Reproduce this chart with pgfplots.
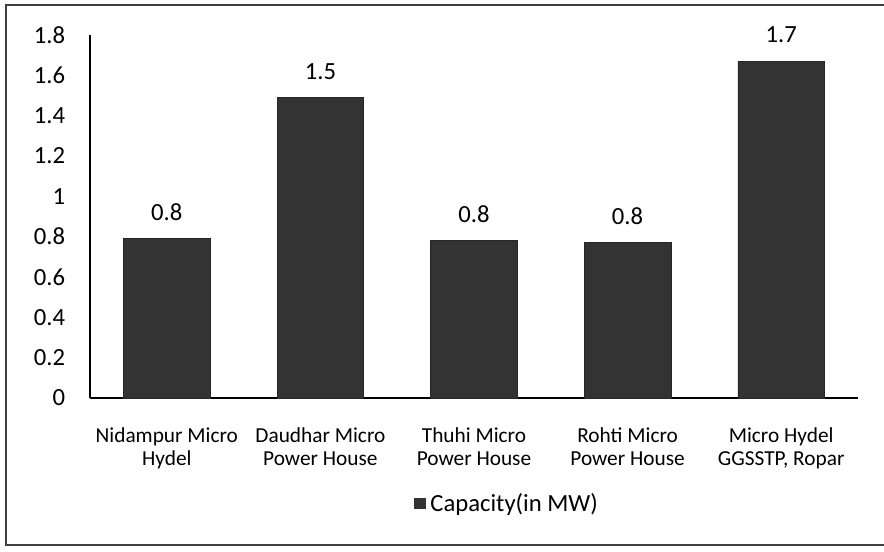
\documentclass[border=0pt]{standalone}
\usepackage{pgfplots}
\pgfplotsset{compat=1.18}
\usepackage{fontspec}
\setmainfont{Carlito}
\begin{document}
\begin{tikzpicture}
\useasboundingbox (0,0) rectangle (663pt,414pt);
\draw[black!75, line width=0.8pt] (4.5pt,5.25pt) rectangle (680pt,410.25pt);
\begin{axis}[
  at={(67.5pt,115.5pt)}, anchor=south west,
  scale only axis, width=576pt, height=272.25pt,
  xmin=-0.5, xmax=4.5, ymin=0, ymax=1.8,
  axis x line*=bottom, axis y line*=left,
  axis line style={black, line width=0.9pt},
  major tick length=0pt,
  ytick={0,0.2,0.4,0.6,0.8,1,1.2,1.4,1.6,1.8},
  xtick={0,1,2,3,4},
  xticklabels={{Nidampur Micro\\Hydel}, {Daudhar Micro\\Power House}, {Thuhi Micro\\Power House}, {Rohti Micro\\Power House}, {Micro Hydel\\GGSSTP, Ropar}},
  /pgf/number format/assume math mode=true,
  yticklabel style={font=\fontsize{18.5}{20}\selectfont, inner sep=0pt, anchor=east, xshift=-18.5pt},
  xticklabel style={font=\fontsize{16}{17.5}\selectfont, inner sep=0pt, anchor=north, yshift=-22pt, align=center},
  ybar, bar width=65pt,
  nodes near coords,
  nodes near coords style={font=\fontsize{18.5}{20}\selectfont, inner sep=0pt, anchor=south, yshift=13.5pt, black,
     /pgf/number format/fixed, /pgf/number format/precision=1, /pgf/number format/fixed zerofill},
  legend style={at={(0.545,-0.29)}, anchor=center, draw=none, font=\fontsize{18.5}{20}\selectfont, inner sep=1pt, nodes={inner xsep=4pt}},
  legend image code/.code={\fill[black!80] (0pt,-4pt) rectangle (8pt,4pt);},
  clip=false,
]
\addplot[fill=black!80, draw=black!85] coordinates {(0,0.79) (1,1.49) (2,0.78) (3,0.77) (4,1.67)};
\addlegendentry{Capacity(in MW)}
\end{axis}
\end{tikzpicture}
\end{document}
